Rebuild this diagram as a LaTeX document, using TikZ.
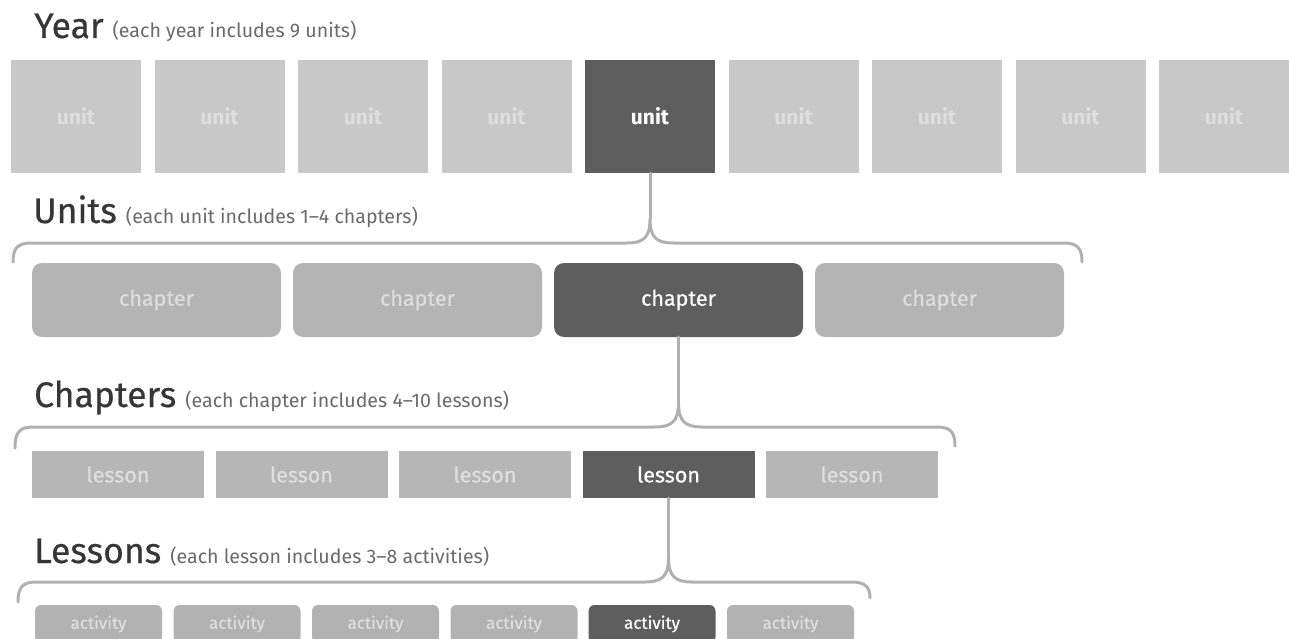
\documentclass[tikz,border=0pt]{standalone}
\usepackage{fontspec}
\setmainfont{Fira Sans}
\newfontfamily\mediumfont{Fira Sans}[FakeBold=0.5]
\definecolor{unitgray}{HTML}{C8C8C8}
\definecolor{chaptergray}{HTML}{B4B4B4}
\definecolor{lessongray}{HTML}{B6B6B6}
\definecolor{activitygray}{HTML}{B2B2B2}
\definecolor{darkgray}{HTML}{5E5E5E}
\definecolor{labelgray}{HTML}{DEDEDE}
\definecolor{bracegray}{HTML}{B0B0B0}
\definecolor{headgray}{HTML}{363636}
\definecolor{subgray}{HTML}{6A6A6A}

\begin{document}
\begin{tikzpicture}[x=1pt,y=-1pt,
	heading/.style={anchor=base west,inner sep=0pt,text=headgray,font=\mediumfont\fontsize{35.5}{38}\selectfont},
	unitbox/.style={fill=unitgray,minimum width=130pt,minimum height=113pt,inner sep=0pt,text=labelgray,font=\fontsize{21}{23}\selectfont\bfseries},
	chapterbox/.style={fill=chaptergray,rounded corners=10pt,minimum width=249pt,minimum height=74pt,inner sep=0pt,text=labelgray,font=\mediumfont\fontsize{21.5}{23}\selectfont},
	lessonbox/.style={fill=lessongray,minimum width=172pt,minimum height=47pt,inner sep=0pt,text=labelgray,font=\mediumfont\fontsize{21.5}{23}\selectfont},
	activitybox/.style={fill=activitygray,rounded corners=6pt,minimum width=127pt,minimum height=38pt,inner sep=0pt,text=labelgray,font=\mediumfont\fontsize{17}{19}\selectfont},
	picked/.style={fill=darkgray,text=white},
	brace/.style={draw=bracegray,line width=3pt,line join=round,line cap=round}]

\def\SUB#1{\hspace{9pt}{\normalfont\fontsize{19.6}{21}\selectfont\color{subgray}#1}}
	\useasboundingbox (0,0) rectangle (1289,639);

	\node[heading] (tyear) at (34,38) {Year\SUB{(each year includes 9 units)}};
	\node[heading] (tunits) at (33,223) {Units\SUB{(each unit includes 1–4 chapters)}};
	\node[heading] (tchapters) at (34,407) {Chapters\SUB{(each chapter includes 4–10 lessons)}};
	\node[heading] (tlessons) at (34,563) {Lessons\SUB{(each lesson includes 3–8 activities)}};

	\node[unitbox] (u1) at (76,116.5) {unit};
	\node[unitbox] (u2) at (219.5,116.5) {unit};
	\node[unitbox] (u3) at (363,116.5) {unit};
	\node[unitbox] (u4) at (506.5,116.5) {unit};
	\node[unitbox,picked] (u5) at (650,116.5) {unit};
	\node[unitbox] (u6) at (793.5,116.5) {unit};
	\node[unitbox] (u7) at (937,116.5) {unit};
	\node[unitbox] (u8) at (1080.5,116.5) {unit};
	\node[unitbox] (u9) at (1224,116.5) {unit};

	\node[chapterbox] (c1) at (156.5,300) {chapter};
	\node[chapterbox] (c2) at (417.5,300) {chapter};
	\node[chapterbox,picked] (c3) at (678.5,300) {chapter};
	\node[chapterbox] (c4) at (939.5,300) {chapter};

	\node[lessonbox] (l1) at (118,474.5) {lesson};
	\node[lessonbox] (l2) at (301.5,474.5) {lesson};
	\node[lessonbox] (l3) at (485,474.5) {lesson};
	\node[lessonbox,picked] (l4) at (668.5,474.5) {lesson};
	\node[lessonbox] (l5) at (852,474.5) {lesson};

	\node[activitybox] (a1) at (98.5,624) {activity};
	\node[activitybox] (a2) at (237,624) {activity};
	\node[activitybox] (a3) at (375.5,624) {activity};
	\node[activitybox] (a4) at (514,624) {activity};
	\node[activitybox,picked] (a5) at (652,624) {activity};
	\node[activitybox] (a6) at (790.5,624) {activity};

	\coordinate (ucusp) at (650,219);
	\coordinate (uleft) at (13,262);
	\coordinate (uright) at (1082,262);
	\draw[brace] (u5.south) -- (ucusp);
	\draw[brace] (uleft) .. controls (13,249) and (17,243) .. (31,243) -- (627,243) .. controls (644,243) and (650,237) .. (ucusp) .. controls (650,237) and (656,243) .. (673,243) -- (1064,243) .. controls (1078,243) and (1082,249) .. (uright);

	\coordinate (ccusp) at (678.5,403);
	\coordinate (cleft) at (15,448);
	\coordinate (cright) at (955,446);
	\draw[brace] (c3.south) -- (ccusp);
	\draw[brace] (cleft) .. controls (15,433) and (19,427) .. (33,427) -- (655,427) .. controls (672,427) and (678.5,421) .. (ccusp) .. controls (678.5,421) and (685,427) .. (702,427) -- (937,427) .. controls (951,427) and (955,433) .. (cright);

	\coordinate (lcusp) at (668.5,558);
	\coordinate (lleft) at (18,602);
	\coordinate (lright) at (870,598);
	\draw[brace] (l4.south) -- (lcusp);
	\draw[brace] (lleft) .. controls (18,588) and (22,582) .. (36,582) -- (645,582) .. controls (662,582) and (668.5,576) .. (lcusp) .. controls (668.5,576) and (675,582) .. (692,582) -- (852,582) .. controls (866,582) and (870,588) .. (lright);

\end{tikzpicture}
\end{document}
